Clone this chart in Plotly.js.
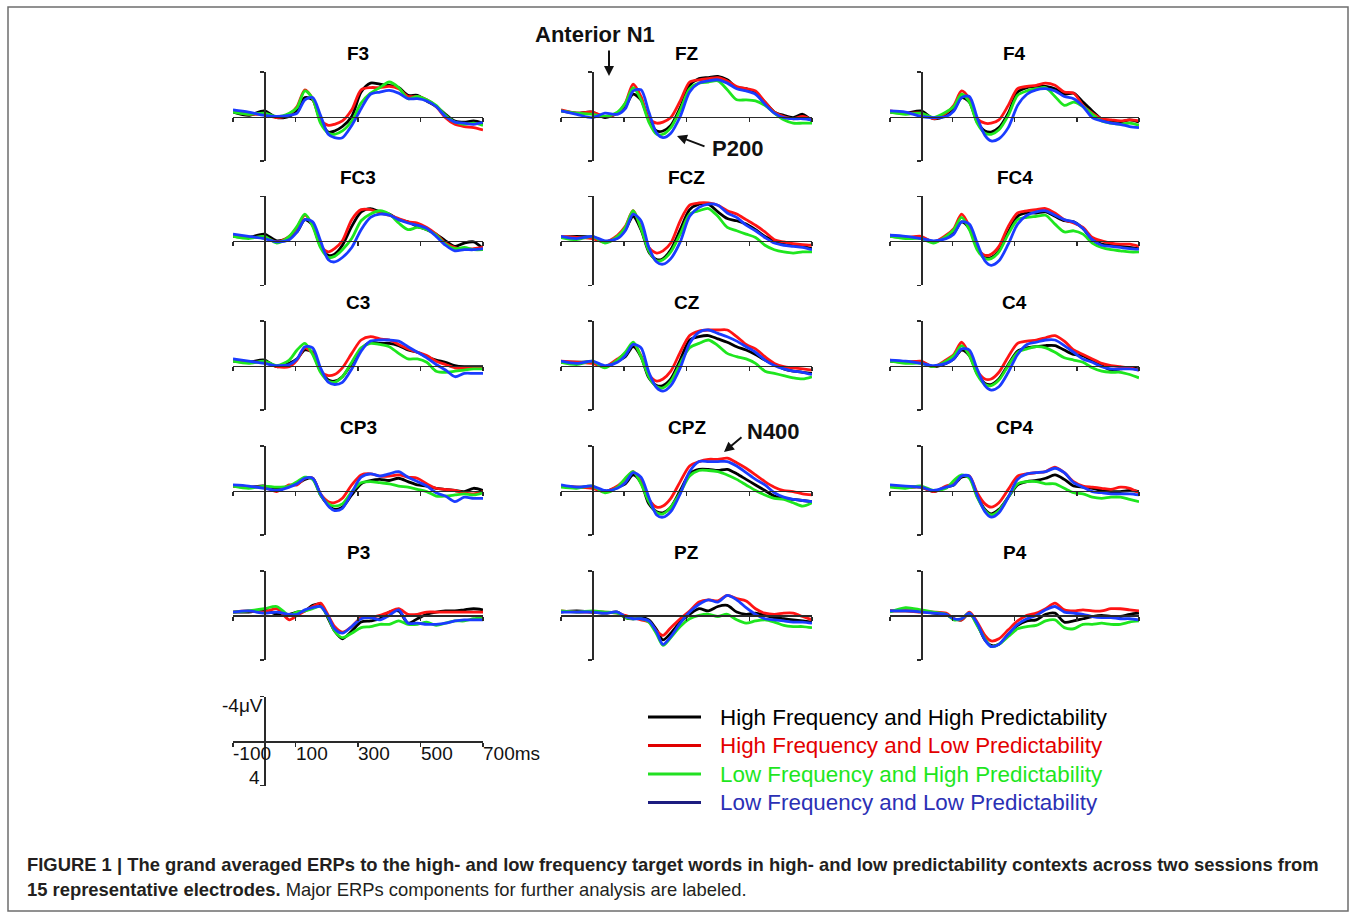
<!DOCTYPE html>
<html><head><meta charset="utf-8">
<script src="https://cdn.plot.ly/plotly-3.0.1.min.js"></script>
<style>html,body{margin:0;padding:0;background:#fff}#chart{width:1356px;height:913px}</style>
</head><body><div id="chart"></div>
<script>
// ---------- data (µV, negative plotted up) ----------
const TIME_MS=[-100,-50,0,40,80,105,130,155,180,205,225,250,280,310,340,370,400,430,460,490,520,550,580,610,640,670,700];
const ELECTRODES=['F3','FZ','F4','FC3','FCZ','FC4','C3','CZ','C4','CP3','CPZ','CP4','P3','PZ','P4'];
const CONDITIONS=['High Frequency and High Predictability','High Frequency and Low Predictability','Low Frequency and High Predictability','Low Frequency and Low Predictability'];
const X_TICKS=[-100,100,300,500,700];
const SCALE_X_LABELS=['-100','100','300','500','700ms'];
const Y_TICKS=[-4,4];
const SCALE_Y_LABELS=['-4\u03bcV','4'];

const F3_HFHP=[-0.4,-0.1,-0.5,0.1,0.0,-0.6,-1.7,-1.5,0.4,1.4,1.3,0.9,0.0,-2.2,-3.0,-2.9,-2.8,-2.6,-1.9,-1.9,-1.4,-0.9,-0.2,0.4,0.5,0.4,0.6];
const F3_HFLP=[-0.5,-0.2,-0.2,0.1,-0.2,-0.9,-2.4,-1.6,0.3,0.8,0.7,0.4,-0.6,-2.4,-2.6,-2.6,-2.7,-2.5,-1.8,-1.8,-1.5,-0.9,0.1,0.7,0.9,1.0,1.2];
const F3_LFHP=[-0.4,-0.2,-0.3,0.0,-0.3,-0.8,-2.3,-1.6,0.6,1.5,1.6,1.3,0.4,-1.2,-2.1,-2.6,-3.1,-2.6,-1.6,-1.8,-1.5,-1.0,-0.1,0.5,0.7,0.6,0.8];
const F3_LFLP=[-0.6,-0.4,-0.1,0.0,-0.1,-0.3,-1.5,-1.7,-0.1,1.6,1.9,1.9,0.8,-0.7,-2.0,-2.2,-2.35,-2.1,-1.6,-1.6,-1.4,-0.9,0.0,0.5,0.6,0.7,0.5];

const FZ_HFHP=[-0.5,-0.3,-0.4,0.1,-0.3,-0.9,-2.0,-1.5,0.3,1.3,1.3,0.8,-0.8,-2.8,-3.4,-3.5,-3.6,-3.3,-2.6,-2.5,-2.1,-1.3,-0.4,-0.1,0.1,-0.2,0.4];
const FZ_HFLP=[-0.6,-0.3,-0.4,0.0,-0.3,-1.2,-2.9,-1.8,0.2,0.6,0.5,0.1,-1.4,-3.1,-3.3,-3.4,-3.5,-3.2,-2.7,-2.5,-2.3,-1.3,-0.4,0.0,0.2,0.0,0.3];
const FZ_LFHP=[-0.5,-0.3,-0.2,0.0,-0.4,-1.2,-2.6,-1.5,0.5,1.6,1.6,1.0,-0.6,-2.5,-3.0,-3.1,-3.2,-2.4,-1.5,-1.5,-1.4,-1.0,-0.3,0.3,0.6,0.6,0.6];
const FZ_LFLP=[-0.5,-0.2,0.1,-0.3,-0.2,-0.7,-2.3,-2.4,-0.4,1.5,1.9,1.5,0.0,-2.2,-3.0,-3.2,-3.3,-3.0,-2.5,-2.3,-2.0,-1.1,-0.3,0.1,0.2,0.2,0.3];

const F4_HFHP=[-0.4,-0.3,-0.5,0.2,-0.1,-0.6,-1.7,-1.3,0.5,1.3,1.4,1.0,-0.3,-2.2,-2.6,-2.7,-2.7,-2.5,-2.0,-2.1,-1.3,-0.5,0.2,0.4,0.5,0.3,0.5];
const F4_HFLP=[-0.5,-0.3,-0.3,0.2,-0.3,-1.0,-2.3,-1.6,0.2,0.6,0.6,0.3,-1.0,-2.5,-2.7,-2.8,-3.0,-2.8,-2.2,-2.1,-1.0,-0.3,0.2,0.3,0.4,0.3,0.4];
const F4_LFHP=[-0.4,-0.2,-0.3,0.1,-0.4,-0.9,-2.0,-1.3,0.6,1.5,1.6,1.2,-0.1,-1.9,-2.3,-2.5,-2.6,-1.8,-1.0,-1.3,-0.9,-0.2,0.4,0.6,0.7,0.6,0.8];
const F4_LFLP=[-0.5,-0.4,0.0,0.1,0.0,-0.5,-1.7,-1.8,0.1,1.7,2.2,2.0,1.0,-1.0,-2.0,-2.4,-2.5,-2.3,-1.8,-1.6,-0.9,0.1,0.4,0.6,0.7,0.9,1.0];

const FC3_HFHP=[-0.4,-0.3,-0.6,0.0,-0.3,-0.8,-1.9,-1.4,0.5,1.3,1.2,0.4,-1.3,-2.6,-2.9,-2.6,-2.4,-1.9,-1.7,-1.3,-1.0,-0.6,0.0,0.5,0.2,0.1,0.7];
const FC3_HFLP=[-0.5,-0.3,-0.3,0.1,-0.4,-1.2,-2.3,-1.4,0.4,1.0,0.7,0.0,-1.9,-2.8,-2.8,-2.5,-2.3,-2.0,-1.7,-1.6,-1.2,-0.6,0.2,0.6,0.8,0.7,0.6];
const FC3_LFHP=[-0.4,-0.2,-0.4,0.2,-0.4,-1.3,-2.4,-1.3,0.6,1.5,1.4,0.8,-0.2,-1.8,-2.4,-2.7,-2.4,-1.6,-1.0,-1.2,-1.0,-0.5,0.3,0.7,0.6,0.8,0.8];
const FC3_LFLP=[-0.6,-0.4,-0.2,0.1,-0.1,-0.8,-1.9,-1.7,0.0,1.7,1.9,1.5,0.6,-1.0,-2.1,-2.4,-2.3,-1.9,-1.6,-1.4,-1.1,-0.4,0.4,0.9,0.8,0.8,0.7];

const FCZ_HFHP=[-0.3,-0.4,-0.3,0.1,-0.3,-1.0,-2.2,-1.0,1.0,1.7,1.6,0.8,-1.0,-2.8,-3.3,-3.3,-2.6,-2.0,-1.8,-1.5,-1.0,-0.4,0.0,0.3,0.4,0.5,0.7];
const FCZ_HFLP=[-0.4,-0.3,-0.2,0.1,-0.5,-1.3,-2.7,-1.2,0.6,1.1,0.9,0.2,-1.8,-3.2,-3.4,-3.4,-3.2,-2.7,-2.4,-1.9,-1.4,-0.8,-0.1,0.1,0.25,0.35,0.4];
const FCZ_LFHP=[-0.3,-0.1,-0.4,0.2,-0.4,-1.2,-2.7,-1.1,0.9,1.8,1.7,1.0,-0.6,-2.4,-2.7,-2.9,-2.2,-1.2,-0.9,-0.6,-0.3,0.4,0.8,1.0,1.1,1.0,1.0];
const FCZ_LFLP=[-0.4,-0.2,-0.4,0.0,-0.2,-0.9,-2.4,-1.8,0.6,1.9,2.1,1.6,0.1,-2.2,-3.0,-3.3,-3.2,-2.5,-2.1,-1.4,-0.9,-0.3,0.2,0.4,0.5,0.6,0.8];

const FC4_HFHP=[-0.4,-0.3,-0.3,0.1,-0.3,-0.7,-1.7,-1.1,0.6,1.5,1.5,0.9,-0.8,-2.2,-2.5,-2.5,-2.6,-2.2,-1.8,-1.7,-1.1,-0.1,0.3,0.4,0.5,0.6,0.7];
const FC4_HFLP=[-0.5,-0.3,-0.4,0.1,-0.5,-1.1,-2.4,-1.3,0.6,1.3,1.2,0.5,-1.3,-2.5,-2.7,-2.8,-2.9,-2.5,-1.9,-1.6,-1.2,-0.3,0.0,0.2,0.3,0.3,0.5];
const FC4_LFHP=[-0.4,-0.2,-0.2,0.2,-0.4,-1.0,-2.1,-1.0,0.8,1.6,1.6,1.0,-0.6,-1.9,-2.1,-2.2,-2.3,-1.5,-0.8,-0.9,-0.6,0.2,0.6,0.8,0.9,1.0,1.0];
const FC4_LFLP=[-0.5,-0.4,-0.2,0.0,-0.2,-0.6,-1.7,-1.5,0.2,1.8,2.2,1.8,0.3,-1.5,-2.3,-2.6,-2.7,-2.3,-1.9,-1.7,-1.1,-0.1,0.4,0.5,0.6,0.7,0.75];

const C3_HFHP=[-0.4,-0.3,-0.5,0.1,-0.2,-0.6,-1.4,-1.2,0.4,1.3,1.4,1.0,-0.2,-1.5,-2.1,-2.0,-2.0,-1.8,-1.4,-1.2,-0.8,-0.5,-0.3,0.0,0.1,0.1,0.1];
const C3_HFLP=[-0.5,-0.3,-0.3,0.1,0.1,-0.5,-1.6,-1.1,0.5,0.9,0.8,0.2,-1.1,-2.3,-2.6,-2.4,-2.3,-1.9,-1.5,-1.2,-0.9,-0.4,-0.1,0.2,0.25,0.2,0.2];
const C3_LFHP=[-0.4,-0.2,-0.4,0.0,-0.5,-1.4,-2.0,-1.0,0.6,1.4,1.5,1.0,-0.3,-1.6,-2.0,-1.9,-1.7,-1.1,-0.6,-0.6,-0.3,0.5,0.6,0.5,0.4,0.3,0.3];
const C3_LFLP=[-0.6,-0.4,-0.2,0.0,-0.1,-0.6,-1.7,-1.6,0.2,1.5,1.7,1.5,0.3,-1.3,-2.2,-2.3,-2.3,-2.2,-1.7,-1.2,-0.7,-0.1,0.4,1.0,0.7,0.7,0.7];

const CZ_HFHP=[-0.3,-0.3,-0.3,0.1,-0.4,-0.8,-1.7,-0.8,1.1,1.8,1.8,1.2,-0.5,-2.3,-2.6,-2.7,-2.4,-2.1,-1.7,-1.4,-1.0,-0.5,-0.1,0.3,0.5,0.6,0.7];
const CZ_HFLP=[-0.4,-0.3,-0.2,0.1,-0.6,-1.1,-2.0,-0.9,0.8,1.4,1.2,0.5,-1.2,-2.7,-3.1,-3.2,-3.2,-3.2,-2.6,-1.9,-1.5,-0.8,-0.2,0.1,0.2,0.3,0.4];
const CZ_LFHP=[-0.3,-0.1,-0.4,0.2,-0.5,-1.2,-2.1,-0.8,1.0,1.9,2.0,1.4,-0.2,-1.6,-2.0,-2.3,-1.8,-1.1,-0.8,-0.6,-0.2,0.5,0.7,0.9,1.1,1.2,1.0];
const CZ_LFLP=[-0.4,-0.2,-0.4,0.0,-0.3,-0.9,-1.9,-1.6,0.6,2.0,2.3,1.8,0.2,-2.0,-3.0,-3.2,-2.9,-2.6,-2.2,-1.7,-1.2,-0.5,0.0,0.3,0.5,0.6,0.8];

const C4_HFHP=[-0.4,-0.3,-0.3,0.1,-0.2,-0.6,-1.4,-0.9,0.7,1.6,1.7,1.2,-0.1,-1.3,-1.6,-1.7,-1.8,-1.8,-1.4,-1.0,-0.9,-0.4,0.0,0.4,0.3,0.2,0.3];
const C4_HFLP=[-0.5,-0.3,-0.4,0.1,-0.5,-1.0,-2.1,-1.0,0.5,1.2,1.2,0.6,-0.8,-2.0,-2.2,-2.3,-2.5,-2.7,-2.2,-1.4,-1.0,-0.6,-0.2,0.0,0.1,0.2,0.4];
const C4_LFHP=[-0.4,-0.2,-0.2,0.1,-0.4,-0.9,-1.8,-0.9,0.8,1.7,1.8,1.3,0.0,-1.2,-1.5,-1.7,-1.6,-1.2,-0.7,-0.5,-0.3,0.2,0.5,0.6,0.6,0.8,1.1];
const C4_LFLP=[-0.5,-0.4,-0.2,0.0,-0.2,-0.6,-1.5,-1.4,0.3,1.8,2.2,1.9,0.6,-1.0,-1.9,-2.1,-2.3,-2.3,-1.8,-1.2,-0.6,-0.3,0.1,0.3,0.3,0.3,0.4];

const CP3_HFHP=[-0.4,-0.3,-0.4,-0.1,-0.4,-0.6,-1.0,-1.1,0.4,1.3,1.7,1.5,0.4,-0.6,-0.9,-1.0,-0.9,-1.1,-0.8,-0.5,-0.4,-0.2,-0.1,0.0,0.1,-0.2,0.0];
const CP3_HFLP=[-0.4,-0.3,-0.3,0.1,-0.5,-0.5,-1.1,-1.1,0.3,1.0,1.1,0.7,-0.5,-1.4,-1.5,-1.3,-1.3,-1.4,-1.2,-1.1,-0.6,-0.2,-0.1,0.0,0.2,0.3,0.1];
const CP3_LFHP=[-0.4,-0.2,-0.4,-0.3,-0.4,-0.8,-1.2,-1.0,0.4,1.2,1.4,1.2,0.1,-0.7,-0.8,-0.7,-0.6,-0.4,-0.3,-0.1,0.1,0.5,0.5,0.4,0.3,0.4,0.2];
const CP3_LFLP=[-0.5,-0.4,-0.2,0.0,-0.3,-0.6,-1.1,-1.1,0.3,1.4,1.8,1.6,0.2,-1.2,-1.5,-1.3,-1.5,-1.7,-1.2,-0.8,-0.4,0.2,0.5,1.0,0.6,0.7,0.7];

const CPZ_HFHP=[-0.4,-0.3,-0.3,0.1,-0.3,-0.6,-1.4,-0.7,1.2,1.9,2.0,1.5,0.0,-1.5,-1.9,-1.9,-1.8,-1.9,-1.5,-1.0,-0.5,0.0,0.5,0.7,0.8,0.9,1.0];
const CPZ_HFLP=[-0.4,-0.3,-0.2,0.1,-0.4,-1.0,-1.7,-0.8,0.8,1.5,1.4,0.7,-0.8,-2.2,-2.6,-2.8,-2.8,-2.9,-2.5,-2.0,-1.4,-0.8,-0.3,0.0,0.1,0.3,0.4];
const CPZ_LFHP=[-0.3,-0.2,-0.4,0.2,-0.3,-1.1,-1.7,-0.6,1.0,2.0,2.1,1.5,0.2,-1.3,-1.8,-1.8,-1.7,-1.4,-1.0,-0.5,0.0,0.4,0.7,0.8,1.1,1.4,1.1];
const CPZ_LFLP=[-0.5,-0.3,-0.4,0.0,-0.2,-0.7,-1.6,-1.2,0.6,2.2,2.4,1.9,0.3,-1.7,-2.6,-2.6,-2.6,-2.6,-2.2,-1.6,-1.0,-0.5,0.2,0.6,0.8,0.9,1.0];

const CP4_HFHP=[-0.4,-0.3,-0.3,0.1,-0.3,-0.5,-1.2,-1.2,0.5,1.7,2.1,1.7,0.6,-0.5,-0.8,-0.9,-1.1,-1.4,-1.0,-0.4,-0.3,-0.2,0.0,0.1,0.1,0.0,0.1];
const CP4_HFLP=[-0.4,-0.3,-0.3,0.1,-0.4,-0.6,-1.3,-1.3,0.2,1.2,1.5,1.1,-0.1,-1.3,-1.5,-1.6,-1.7,-2.1,-1.6,-0.8,-0.4,-0.3,-0.2,-0.1,-0.3,-0.2,0.2];
const CP4_LFHP=[-0.3,-0.2,-0.4,0.0,-0.2,-0.9,-1.4,-1.1,0.6,1.8,2.2,1.8,0.6,-0.6,-0.8,-0.8,-0.6,-0.6,-0.2,0.2,0.3,0.6,0.7,0.6,0.6,0.8,1.0];
const CP4_LFLP=[-0.5,-0.4,-0.3,0.0,-0.3,-0.5,-1.3,-1.3,0.4,1.9,2.4,2.0,0.6,-1.0,-1.5,-1.6,-1.7,-2.0,-1.6,-0.7,-0.3,0.1,0.2,0.3,0.3,0.3,0.4];

const P3_HFHP=[-0.3,-0.3,-0.5,-0.1,-0.1,-0.3,-0.4,-0.9,-1.0,0.3,1.4,2.1,1.4,0.6,0.5,0.3,-0.3,-0.4,0.7,0.3,-0.1,-0.3,-0.4,-0.4,-0.5,-0.6,-0.5];
const P3_HFLP=[-0.3,-0.4,-0.3,-0.6,0.4,0.0,-0.4,-0.8,-1.1,0.0,1.0,1.5,1.0,0.2,0.2,0.0,-0.3,-0.6,-0.1,-0.1,-0.3,-0.3,-0.3,-0.3,-0.3,-0.3,-0.3];
const P3_LFHP=[-0.3,-0.4,-0.6,-0.8,0.0,-0.3,-0.4,-0.6,-0.8,0.2,1.4,2.0,1.6,1.1,1.0,0.8,0.8,0.5,0.8,0.8,0.6,0.9,0.7,0.5,0.5,0.3,0.2];
const P3_LFLP=[-0.3,-0.4,-0.2,-0.3,-0.1,-0.1,-0.5,-0.7,-0.8,0.1,1.2,1.6,1.0,0.3,0.2,0.4,0.0,-0.5,0.7,0.7,0.8,0.8,0.7,0.5,0.4,0.4,0.4];

const PZ_HFHP=[-0.3,-0.4,-0.3,-0.2,-0.3,0.2,0.3,0.2,0.4,1.3,2.2,1.6,0.6,-0.1,-0.6,-0.4,-0.8,-0.9,-0.3,-0.1,-0.2,0.0,0.2,0.3,0.4,0.5,0.6];
const PZ_HFLP=[-0.4,-0.3,-0.3,-0.3,-0.2,0.0,0.2,0.4,0.6,1.4,1.8,1.1,0.3,-0.4,-1.2,-1.4,-1.3,-1.8,-1.5,-1.3,-0.6,-0.2,-0.1,-0.2,-0.2,0.1,0.4];
const PZ_LFHP=[-0.4,-0.3,-0.4,-0.3,-0.2,0.2,0.3,0.3,0.6,1.7,2.7,2.0,1.0,0.3,0.0,-0.1,0.1,-0.1,0.4,0.7,0.5,0.4,0.6,0.9,1.0,1.0,1.1];
const PZ_LFLP=[-0.3,-0.3,-0.3,-0.2,-0.3,0.1,0.3,0.3,0.5,1.5,2.6,1.9,0.7,-0.3,-1.0,-1.4,-1.2,-1.8,-1.4,-0.7,-0.1,0.3,0.4,0.5,0.6,0.6,0.7];

const P4_HFHP=[-0.4,-0.4,-0.4,-0.2,-0.1,0.3,0.4,-0.2,0.8,2.2,2.7,2.6,1.7,0.9,0.5,0.4,-0.1,-0.2,0.6,0.5,0.3,0.1,0.0,0.1,0.1,-0.1,-0.2];
const P4_HFLP=[-0.4,-0.4,-0.3,-0.3,-0.2,0.3,0.4,-0.3,0.6,1.8,2.3,2.1,1.3,0.5,0.0,-0.2,-0.6,-1.1,-0.5,-0.4,-0.5,-0.4,-0.4,-0.6,-0.6,-0.5,-0.4];
const P4_LFHP=[-0.3,-0.7,-0.5,-0.3,-0.1,0.4,0.3,-0.2,0.9,2.1,2.8,2.6,1.9,1.2,1.0,0.9,0.5,0.4,1.1,1.2,0.8,0.8,0.7,0.8,0.8,0.6,0.5];
const P4_LFLP=[-0.4,-0.4,-0.3,-0.2,-0.1,0.3,0.3,-0.2,0.7,2.2,2.8,2.6,1.7,0.8,0.3,0.0,-0.5,-0.8,-0.3,-0.2,-0.1,0.1,0.2,0.2,0.3,0.3,0.4];

const SERIES={
  F3:[F3_HFHP,F3_HFLP,F3_LFHP,F3_LFLP], FZ:[FZ_HFHP,FZ_HFLP,FZ_LFHP,FZ_LFLP], F4:[F4_HFHP,F4_HFLP,F4_LFHP,F4_LFLP],
  FC3:[FC3_HFHP,FC3_HFLP,FC3_LFHP,FC3_LFLP], FCZ:[FCZ_HFHP,FCZ_HFLP,FCZ_LFHP,FCZ_LFLP], FC4:[FC4_HFHP,FC4_HFLP,FC4_LFHP,FC4_LFLP],
  C3:[C3_HFHP,C3_HFLP,C3_LFHP,C3_LFLP], CZ:[CZ_HFHP,CZ_HFLP,CZ_LFHP,CZ_LFLP], C4:[C4_HFHP,C4_HFLP,C4_LFHP,C4_LFLP],
  CP3:[CP3_HFHP,CP3_HFLP,CP3_LFHP,CP3_LFLP], CPZ:[CPZ_HFHP,CPZ_HFLP,CPZ_LFHP,CPZ_LFLP], CP4:[CP4_HFHP,CP4_HFLP,CP4_LFHP,CP4_LFLP],
  P3:[P3_HFHP,P3_HFLP,P3_LFHP,P3_LFLP], PZ:[PZ_HFHP,PZ_HFLP,PZ_LFHP,PZ_LFLP], P4:[P4_HFHP,P4_HFLP,P4_LFHP,P4_LFLP]
};

// ---------- styling / geometry ----------
const W=1356,H=913;
const FONT='Liberation Sans, Arial, Helvetica, sans-serif';
const LINE_COLORS=['#000000','#ff1414','#1ee61e','#1a3cff'];
const LEG_LINE_COLORS=['#000000','#e00000','#22e022','#1c1c80'];
const LEG_TEXT_COLORS=['#000000','#e30000','#1ee61e','#2b30b5'];
const AX='#2a2a2a';
const COL_PX=[[233,483],[561,812],[890,1139]];
const ROW_BASE=[116.5,240.8,365.6,490.5,615.4];
const SCALE_BASE=741;
const HALF=44.5;
const X_MIN=-100,X_MAX=700,Y_LIM=4;

const traces=[];
const layout={width:W,height:H,margin:{l:0,r:0,t:0,b:0,pad:0},paper_bgcolor:'#ffffff',plot_bgcolor:'rgba(0,0,0,0)',
  showlegend:false,font:{family:FONT,color:'#000'},annotations:[],shapes:[]};

function addAxes(k,x0,x1,base){
  const s=k===1?'':String(k);
  layout['xaxis'+s]={domain:[x0/W,x1/W],range:[X_MIN,X_MAX],anchor:'free',position:1-base/H,
    showline:true,linecolor:AX,linewidth:1.5,ticks:'outside',ticklen:4,tickwidth:1.5,tickcolor:AX,
    tickvals:X_TICKS,showticklabels:false,showgrid:false,zeroline:false,fixedrange:true};
  layout['yaxis'+s]={domain:[1-(base+HALF)/H,1-(base-HALF)/H],range:[Y_LIM,-Y_LIM],anchor:'free',
    position:(x0+(x1-x0)*(0-X_MIN)/(X_MAX-X_MIN))/W,
    showline:true,linecolor:AX,linewidth:1.5,ticks:'outside',ticklen:4,tickwidth:1.5,tickcolor:AX,
    tickvals:Y_TICKS,showticklabels:false,showgrid:false,zeroline:false,fixedrange:true};
  return s;
}

ELECTRODES.forEach((el,i)=>{
  const r=Math.floor(i/3),c=i%3,k=i+1;
  const [x0,x1]=COL_PX[c],base=ROW_BASE[r];
  const s=addAxes(k,x0,x1,base);
  SERIES[el].forEach((ys,j)=>{
    traces.push({x:TIME_MS,y:ys,xaxis:'x'+s,yaxis:'y'+s,mode:'lines',name:CONDITIONS[j],
      line:{color:LINE_COLORS[j],width:2.8,shape:'spline',smoothing:0.8},hoverinfo:'skip'});
  });
  layout.annotations.push({xref:'paper',yref:'paper',x:(x0+x1)/2/W,y:1-(base-63)/H,text:'<b>'+el+'</b>',
    showarrow:false,xanchor:'center',yanchor:'middle',font:{size:19,family:FONT,color:'#000'}});
});

// scale panel
const sk=addAxes(16,COL_PX[0][0],COL_PX[0][1],SCALE_BASE);
traces.push({x:[null],y:[null],xaxis:'x'+sk,yaxis:'y'+sk,mode:'lines',showlegend:false,hoverinfo:'skip'});
X_TICKS.forEach((t,i)=>{
  layout.annotations.push({xref:'x'+sk,yref:'y'+sk,x:t,y:0,text:SCALE_X_LABELS[i],showarrow:false,
    xanchor:'left',yanchor:'middle',xshift:-2,yshift:-12,font:{size:19,family:FONT,color:'#111'}});
});
layout.annotations.push({xref:'x'+sk,yref:'y'+sk,x:0,y:Y_TICKS[0],text:SCALE_Y_LABELS[0],showarrow:false,
  xanchor:'right',yanchor:'middle',xshift:1,yshift:-9,font:{size:19,family:FONT,color:'#111'}});
layout.annotations.push({xref:'x'+sk,yref:'y'+sk,x:0,y:Y_TICKS[1],text:SCALE_Y_LABELS[1],showarrow:false,
  xanchor:'right',yanchor:'middle',xshift:-2,yshift:8,font:{size:19,family:FONT,color:'#111'}});

// component labels with arrows
const LBL_FONT={size:22,family:FONT,color:'#111'};
function px(x){return x/W} function py(y){return 1-y/H}
function label(x,y,t){layout.annotations.push({xref:'paper',yref:'paper',x:px(x),y:py(y),text:'<b>'+t+'</b>',
  showarrow:false,xanchor:'center',yanchor:'middle',font:LBL_FONT});}
function arrow(x,y,ax,ay){layout.annotations.push({xref:'paper',yref:'paper',x:px(x),y:py(y),text:'',
  showarrow:true,ax:ax,ay:ay,arrowhead:2,arrowsize:1,arrowwidth:2,arrowcolor:'#111'});}
label(595,34,'Anterior N1'); arrow(609,76,0,-27);
label(737,148,'P200');       arrow(677,136,29,11);
label(773,432,'N400');       arrow(724,452,19,-16);

// legend (drawn by hand)
CONDITIONS.forEach((name,i)=>{
  const y=717+28.5*i;
  layout.shapes.push({type:'line',xref:'paper',yref:'paper',x0:px(648),x1:px(701),y0:py(y),y1:py(y),
    line:{color:LEG_LINE_COLORS[i],width:3}});
  layout.annotations.push({xref:'paper',yref:'paper',x:px(718),y:py(y),text:name,showarrow:false,
    xanchor:'left',yanchor:'middle',font:{size:22.4,family:FONT,color:LEG_TEXT_COLORS[i]}});
});

// caption
layout.annotations.push({xref:'paper',yref:'paper',x:px(25),y:py(864),xanchor:'left',yanchor:'middle',showarrow:false,
  text:'<b>FIGURE 1 | The grand averaged ERPs to the high- and low frequency target words in high- and low predictability contexts across two sessions from</b>',
  font:{size:18.4,family:FONT,color:'#231f20'}});
layout.annotations.push({xref:'paper',yref:'paper',x:px(25),y:py(889),xanchor:'left',yanchor:'middle',showarrow:false,
  text:'<b>15 representative electrodes.</b> Major ERPs components for further analysis are labeled.',
  font:{size:18.4,family:FONT,color:'#231f20'}});

// frame
layout.shapes.push({type:'rect',xref:'paper',yref:'paper',x0:px(8),x1:px(1348),y0:py(911),y1:py(7),
  line:{color:'#6e6e6e',width:1.5},fillcolor:'rgba(0,0,0,0)'});

Plotly.newPlot('chart',traces,layout,{displayModeBar:false,staticPlot:true});
</script>
</body></html>
